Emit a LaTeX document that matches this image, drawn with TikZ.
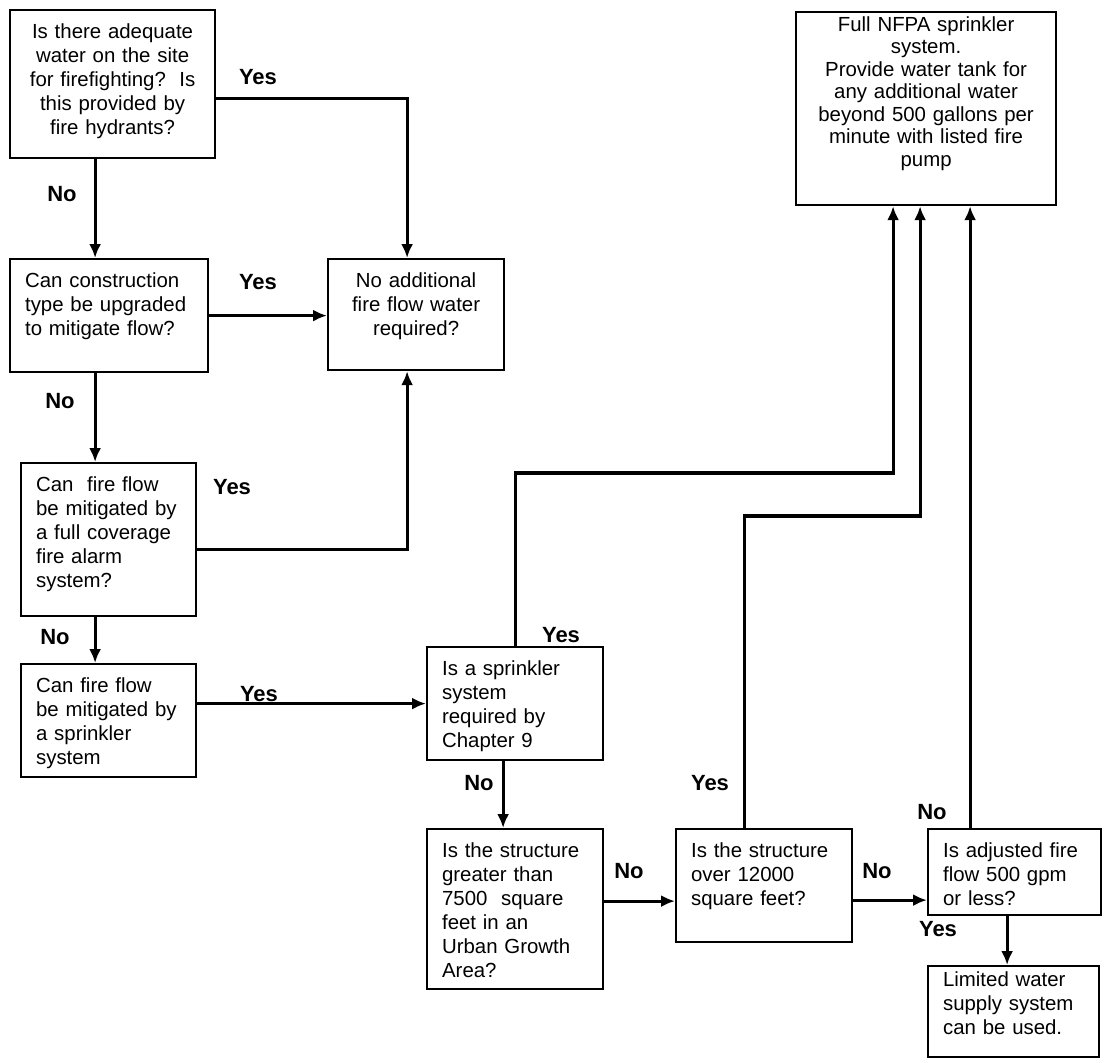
\documentclass[tikz,border=0pt]{standalone}
\usepackage{fontspec}
\setmainfont{Liberation Sans}
\usetikzlibrary{arrows.meta}

\begin{document}
\begin{tikzpicture}[x=0.5pt,y=-0.5pt,font=\fontsize{10.2}{12}\selectfont,>={Latex[length=7pt,width=6pt]},
  qbox/.style={draw,line width=1.1pt,anchor=north west,inner xsep=7.5pt,inner ysep=0pt,text height=14pt,align=left},
  cbox/.style={qbox,align=center},
  link/.style={->,line width=1.6pt},
  answer/.style={font=\fontsize{11}{12}\selectfont\bfseries}]
  \useasboundingbox (0,0) rectangle (1110,1062);
  % left column
  \node[cbox,text width=87.5pt,text depth=60pt] (q1) at (9,9)
    {Is there adequate\\water on the site\\for firefighting?\ \ Is\\this provided by\\fire hydrants?};
  \node[qbox,text width=84pt,text depth=42.5pt] (q2) at (9,258)
    {Can construction\\type be upgraded\\to mitigate flow?};
  \node[cbox,text width=73pt,text depth=41.5pt] (noadd) at (327,258)
    {No additional\\fire flow water\\required?};
  \node[qbox,text width=72.5pt,text depth=62.5pt] (q3) at (20,462)
    {Can\ \ fire flow\\be mitigated by\\a full coverage\\fire alarm\\system?};
  \node[qbox,text width=72.5pt,text depth=42.5pt] (q4) at (20,663)
    {Can fire flow\\be mitigated by\\a sprinkler\\system};
  % bottom row
  \node[qbox,text width=73pt,text depth=42.5pt] (q5) at (426,646)
    {Is a sprinkler\\system\\required by\\Chapter 9};
  \node[qbox,text width=73pt,text depth=66pt] (q6) at (426,828)
    {Is the structure\\greater than\\7500\ \ square\\feet in an\\Urban Growth\\Area?};
  \node[qbox,text width=73pt,text depth=42.5pt] (q7) at (675,828)
    {Is the structure\\over 12000\\square feet?};
  \node[qbox,text width=71.5pt,text depth=29pt] (q8) at (927,828)
    {Is adjusted fire\\flow 500 gpm\\or less?};
  \node[qbox,text width=70.5pt,text height=10pt,text depth=35.5pt] (limited) at (927,965)
    {Limited water\\supply system\\can be used.};
  % outcome at the top
  \node[cbox,text width=115pt,text height=9.5pt,text depth=87pt,font=\fontsize{10.2}{11.25}\selectfont] (full) at (795,11)
    {Full NFPA sprinkler\\system.\\Provide water tank for\\any additional water\\beyond 500 gallons per\\minute with listed fire\\pump};

  % connectors
  \draw[link] ([yshift=-7pt]q1.east) -| ([xshift=-4.5pt]noadd.north);
  \draw[link] ([xshift=-8.75pt]q1.south) -- ([xshift=-8.75pt]q1.south |- q2.north);
  \draw[link] (q2.east) -- (noadd.west |- q2.east);
  \draw[link] ([xshift=-7pt]q2.south) -- ([xshift=-7pt]q2.south |- q3.north);
  \draw[link] ([yshift=-4.75pt]q3.east) -| ([xshift=-4.5pt]noadd.south);
  \draw[link] ([xshift=-6.75pt]q3.south) -- ([xshift=-6.75pt]q3.south |- q4.north);
  \draw[link] (q4.east |- q5.west) -- (q5.west);
  \draw[link] (q5.north) -- ++(0,-173) -| ([xshift=-16.5pt]full.south);
  \draw[link] ([xshift=-6pt]q5.south) -- ([xshift=-6pt]q5.south |- q6.north);
  \draw[link] ([yshift=-7.75pt]q7.west -| q6.east) -- ([yshift=-7.75pt]q7.west);
  \draw[link] ([xshift=-10pt]q7.north) -- ++(0,-312) -| ([xshift=-3pt]full.south);
  \draw[link] ([yshift=-7.25pt]q7.east) -- ([yshift=-7.25pt]q7.east -| q8.west);
  \draw[link] ([xshift=-22.25pt]q8.north) -- ([xshift=-22.25pt]q8.north |- full.south);
  \draw[link] ([xshift=-3.75pt]q8.south) -- ([xshift=-3.75pt]q8.south |- limited.north);

  % answers
  \node[answer] (yes1) at (258,77) {Yes};
  \node[answer] (no1) at (62,194) {No};
  \node[answer] (yes2) at (258,282) {Yes};
  \node[answer] (no2) at (60,401) {No};
  \node[answer] (yes3) at (232,487) {Yes};
  \node[answer] (no3) at (55,637) {No};
  \node[answer] (yes4) at (259,694) {Yes};
  \node[answer] (yes5) at (561,635) {Yes};
  \node[answer] (no4) at (479,783) {No};
  \node[answer] (no5) at (629,871) {No};
  \node[answer] (yes6) at (710,783) {Yes};
  \node[answer] (no6) at (877,871) {No};
  \node[answer] (no7) at (932,812) {No};
  \node[answer] (yes7) at (938,929) {Yes};
\end{tikzpicture}
\end{document}
